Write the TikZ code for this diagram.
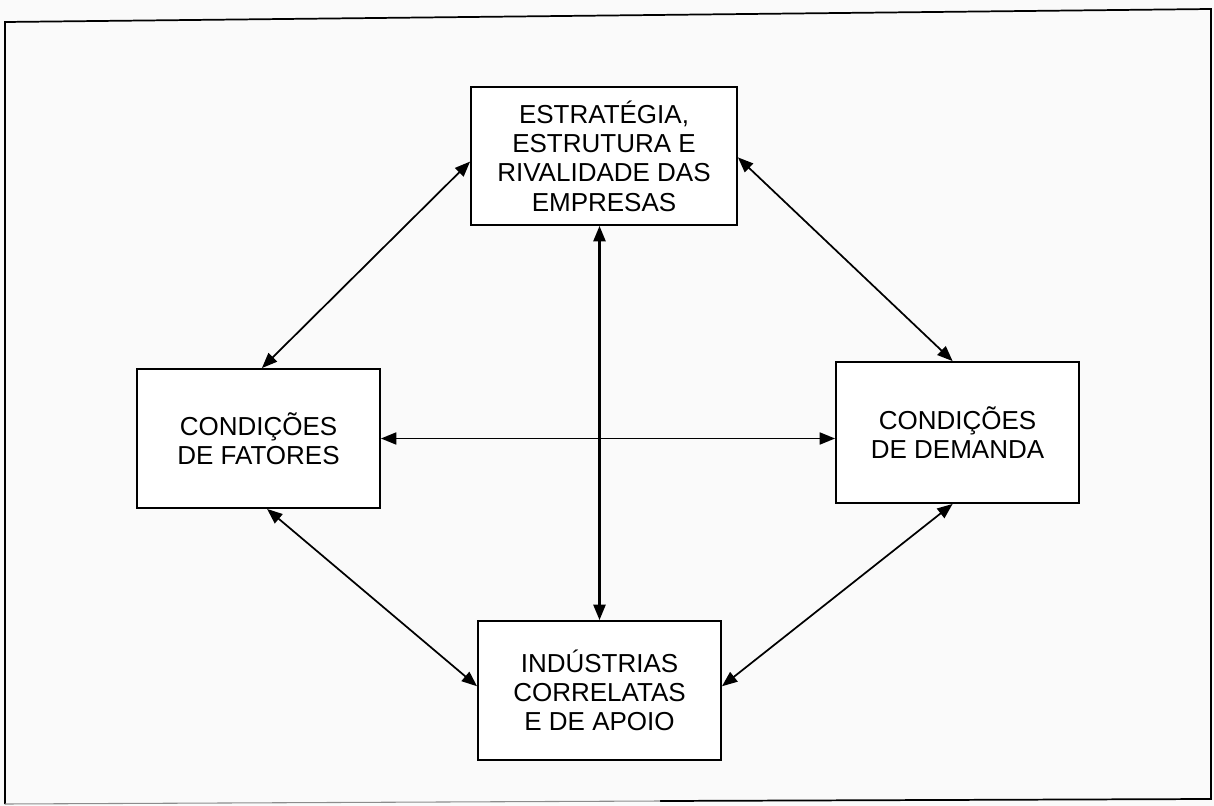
\documentclass[tikz,border=0pt]{standalone}
\usepackage{fontspec}
\setmainfont{Liberation Sans}
\usetikzlibrary{arrows.meta,calc}
\tikzset{
  block/.style={draw=black, line width=1.4pt, fill=white, align=center,
    inner sep=0pt, font=\fontsize{19.5}{22}\selectfont},
  link/.style={line width=1.3pt,
    {Triangle[length=11.5pt,width=9pt]}-{Triangle[length=11.5pt,width=9pt]}},
  frame/.style={draw=black, line width=1.3pt}
}
\begin{document}
\begin{tikzpicture}[x=0.75pt,y=-0.75pt]
  \useasboundingbox[fill=black!2] (0,0) rectangle (1214,806);
  % outer frame (the left half of its bottom edge is printed faintly)
  \draw[frame] (660,801) -- (1211,799) -- (1211,9) -- (5,22) -- (5,804);
  \draw[frame, draw=black!45, line width=0.8pt] (5,804) -- (660,801);

  % the four determinants
  \node[block, minimum width=266*0.75pt, minimum height=138*0.75pt] (strat) at (604,156)
    {ESTRATÉGIA,\\ESTRUTURA E\\RIVALIDADE DAS\\EMPRESAS};
  \node[block, minimum width=243*0.75pt, minimum height=139*0.75pt] (fat) at (258.5,438.5)
    {CONDIÇÕES\\DE FATORES};
  \node[block, minimum width=243*0.75pt, minimum height=141*0.75pt] (dem) at (957.5,432.5)
    {CONDIÇÕES\\DE DEMANDA};
  \node[block, minimum width=243*0.75pt, minimum height=139*0.75pt] (ind) at (599.5,690.5)
    {INDÚSTRIAS\\CORRELATAS\\E DE APOIO};

  % two-way relations
  \draw[link] ($(strat.north west)!0.54!(strat.south west)$) -- ($(fat.north west)!0.514!(fat.north east)$);
  \draw[link] ($(strat.north east)!0.51!(strat.south east)$) -- ($(dem.north west)!0.48!(dem.north east)$);
  \draw[link] (fat.east) -- (fat.east -| dem.west);
  \draw[link, line width=1.7pt] (strat.south -| ind.north) -- (ind.north);
  \draw[link] ($(fat.south west)!0.535!(fat.south east)$) -- ($(ind.north west)!0.47!(ind.south west)$);
  \draw[link] ($(dem.south west)!0.48!(dem.south east)$) -- ($(ind.north east)!0.47!(ind.south east)$);
\end{tikzpicture}
\end{document}
